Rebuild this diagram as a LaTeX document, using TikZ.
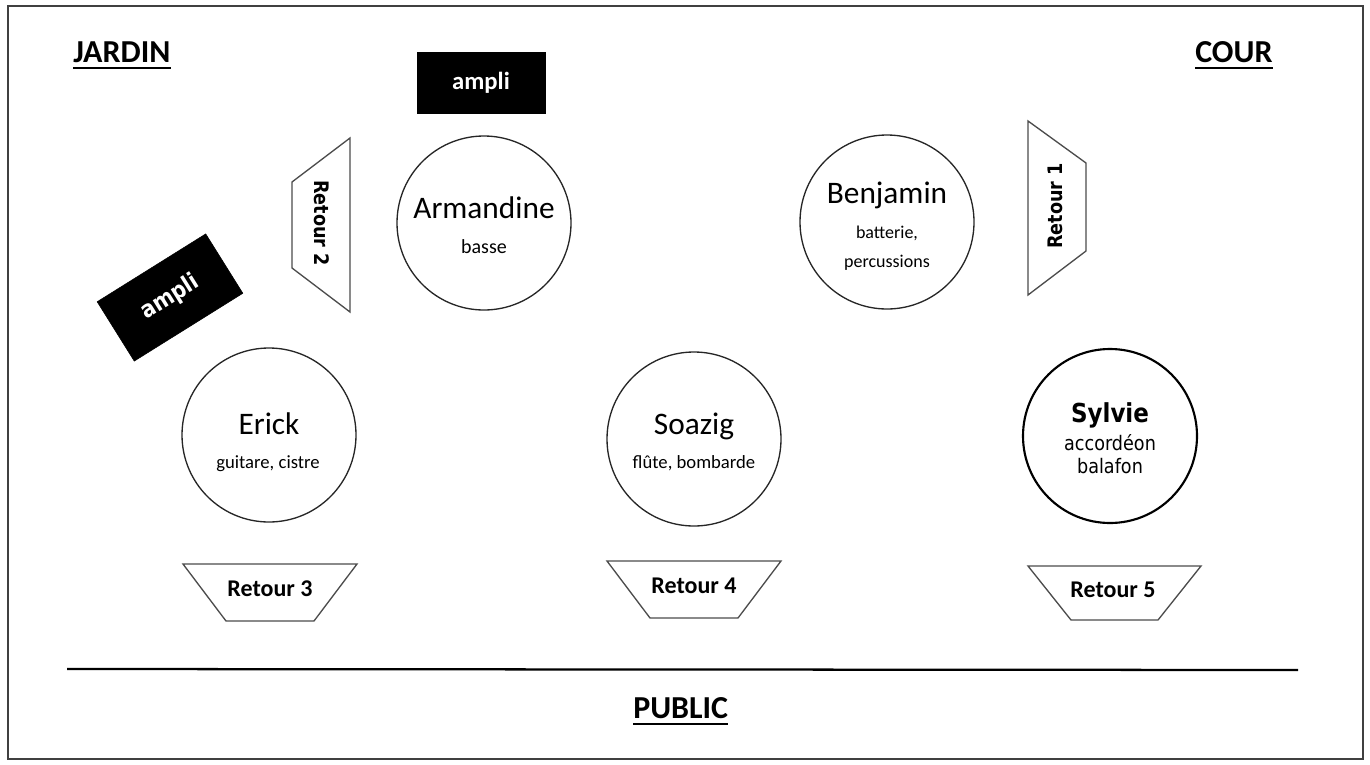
\documentclass[tikz,border=0pt]{standalone}
\usepackage{fontspec}
\setmainfont{Carlito}
\newfontfamily\tah[FakeStretch=0.88]{DejaVu Sans}
\tikzset{
  person/.style={circle, draw=black!85, line width=1pt, minimum size=130.5pt, inner sep=0pt},
  txt/.style={inner sep=0pt, anchor=base, text=black},
  pname/.style={txt, font=\fontsize{23.5}{26}\selectfont},
  instr/.style={txt, font=\fontsize{14}{16}\selectfont},
  retour/.style={draw=black!70, line width=1pt, line join=miter},
  rlabel/.style={txt, font=\fontsize{18}{20}\selectfont\bfseries},
  vlabel/.style={inner sep=0pt, font=\tah\fontsize{15}{17}\selectfont\bfseries},
  sidelbl/.style={txt, anchor=base west, font=\fontsize{24}{28}\selectfont\bfseries},
  amp/.style={fill=black, draw=black, inner sep=0pt, text=white},
}
\begin{document}
\begin{tikzpicture}[x=0.75pt,y=-0.75pt]
\useasboundingbox (0,0) rectangle (1370,764);
\draw[black!75, line width=1.5pt] (8,6) rectangle (1363,759);

% labels
\node[sidelbl] (jardin) at (73,62) {JARDIN};
\node[sidelbl] (cour) at (1195,62) {COUR};
\node[sidelbl] (public) at (633,718) {PUBLIC};
\draw[line width=1.6pt] ([yshift=-4.5pt]jardin.base west) -- ([yshift=-4.5pt]jardin.base east);
\draw[line width=1.6pt] ([yshift=-4.5pt]cour.base west) -- ([yshift=-4.5pt]cour.base east);
\draw[line width=1.6pt] ([yshift=-4.5pt]public.base west) -- ([yshift=-4.5pt]public.base east);

% public line
\coordinate (pl) at (67,669);
\coordinate (pr) at (1298,670);
\draw[line width=1.7pt] (pl) -- (pr);

% amplis
\node[amp, minimum width=96pt, minimum height=45.75pt] (amptop) at (481,82.5) {};
\node[txt, text=white, font=\fontsize{18.5}{20}\selectfont\bfseries] (amptoptxt) at (481,89) {ampli};
\node[amp, minimum width=96pt, minimum height=52.5pt, rotate=32,
      font=\tah\fontsize{17.5}{19}\selectfont\bfseries] (ampleft) at (170,297.5) {ampli};

% musicians
\node[person] (armandine) at (484,223) {};
\node[pname] (armn) at (484,218) {Armandine};
\node[instr, font=\fontsize{15}{17}\selectfont] (armi) at (484,253) {basse};

\node[person] (benjamin) at (887,222) {};
\node[pname] (benn) at (887,203) {Benjamin};
\node[instr, font=\fontsize{13.5}{15}\selectfont] (beni1) at (887,238) {batterie,};
\node[instr, font=\fontsize{13.5}{15}\selectfont] (beni2) at (887,267) {percussions};

\node[person] (erick) at (269,435) {};
\node[pname] (erin) at (269,434) {Erick};
\node[instr] (erii) at (268,468) {guitare, cistre};

\node[person] (soazig) at (694,439) {};
\node[pname] (soan) at (694,434) {Soazig};
\node[instr] (soai) at (694,468) {flûte, bombarde};

\node[person, draw=black, line width=1.6pt] (sylvie) at (1110,436) {};
\node[txt, font=\tah\fontsize{19.6}{22}\selectfont\bfseries] (syln) at (1110,422) {Sylvie};
\node[txt, font=\tah\fontsize{15}{17}\selectfont] (syli1) at (1110,450) {accordéon};
\node[txt, font=\tah\fontsize{15}{17}\selectfont] (syli2) at (1110,473) {balafon};

% retours
\draw[retour] (350,138) -- (350,312) -- (292,268) -- (292,182) -- cycle;
\node[vlabel, rotate=-90] (r2) at (321.5,223) {Retour 2};

\draw[retour] (1028,121) -- (1086,163) -- (1086,251) -- (1028,295) -- cycle;
\node[vlabel, rotate=90] (r1) at (1055.5,206) {Retour 1};

\draw[retour] (183,564) -- (357,564) -- (314,621) -- (226,621) -- cycle;
\node[rlabel] (r3) at (270,596) {Retour 3};

\draw[retour] (607,561) -- (781,561) -- (738,618) -- (650,618) -- cycle;
\node[rlabel] (r4) at (694,593) {Retour 4};

\draw[retour] (1028,566) -- (1201,566) -- (1158,620) -- (1071,620) -- cycle;
\node[rlabel] (r5) at (1113,597) {Retour 5};
\end{tikzpicture}
\end{document}
